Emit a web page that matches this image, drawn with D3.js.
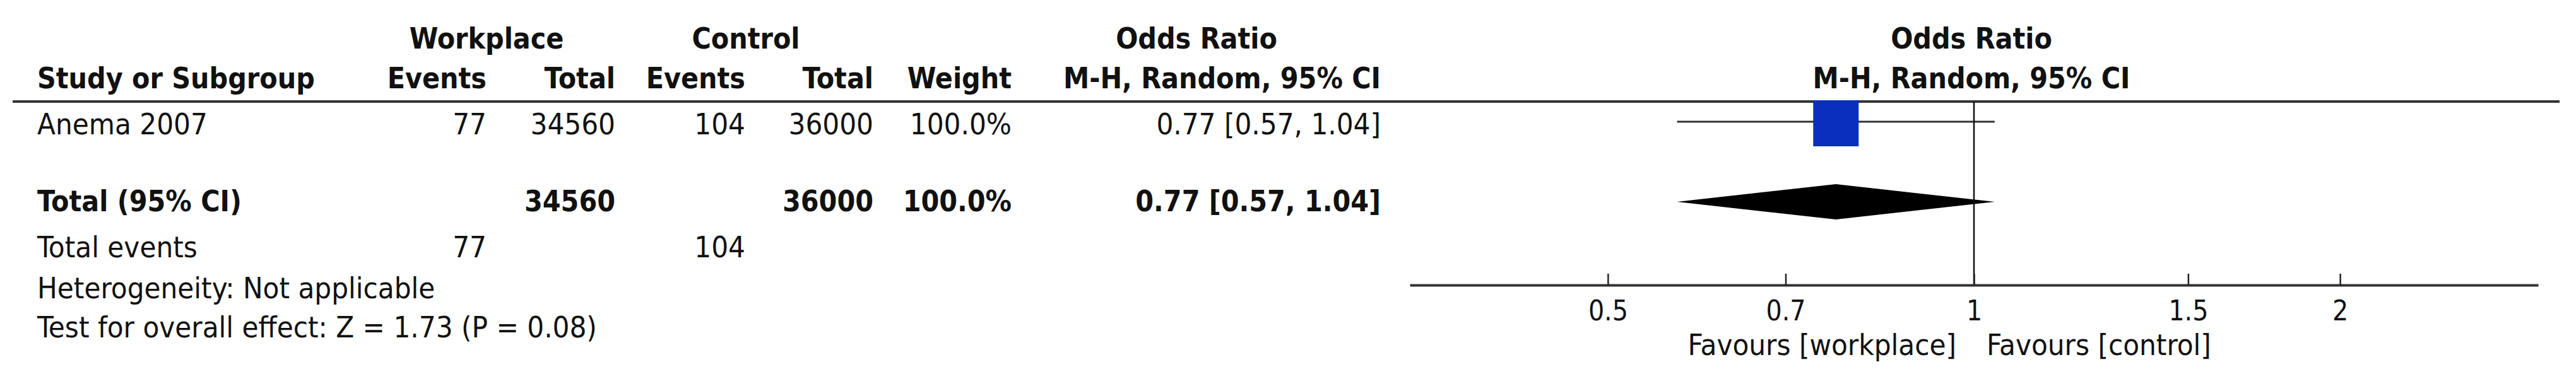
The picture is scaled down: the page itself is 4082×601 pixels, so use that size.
<!DOCTYPE html>
<html><head><meta charset="utf-8">
<script src="https://cdn.jsdelivr.net/npm/d3@7"></script>
<style>
body{margin:0;background:#fff}
text{font-family:"DejaVu Sans Condensed","DejaVu Sans",sans-serif;font-size:47px;fill:#111}
.b{font-weight:bold;font-size:46px}
</style></head><body>
<svg id="chart" width="4082" height="601"></svg>
<script>
// study rows
var studies = ["Anema 2007"]
var expEvents = [77], expTotal = [34560]
var ctlEvents = [104], ctlTotal = [36000]
var weights = ["100.0%"]
var orVal = [0.77], orLo = [0.57], orHi = [1.04]
// pooled
var totalRow = {label:"Total (95% CI)", expTotal:34560, ctlTotal:36000, weight:"100.0%", or:0.77, lo:0.57, hi:1.04}
var totalEvents = [77, 104]
var footNotes = ["Heterogeneity: Not applicable", "Test for overall effect: Z = 1.73 (P = 0.08)"]
var tickVals = [0.5, 0.7, 1, 1.5, 2]
var favours = ["Favours [workplace]", "Favours [control]"]

var svg = d3.select('#chart')

var x = d3.scaleLog().domain([1/2.91, 2.91]).range([2234, 4022])

function txt(s, xx, yy, anchor, cls){
    svg.append('text').attr('x', xx).attr('y', yy)
    .attr('text-anchor', anchor || 'start')
    .attr('class', cls || '')
    .text(s)
}

// column right edges
var cols = {ev1:771, tot1:975, ev2:1181, tot2:1384, wt:1603, ci:2188}

// headers
txt("Workplace", 771, 77, 'middle', 'b')
txt("Control", 1182, 77, 'middle', 'b')
txt("Odds Ratio", 1896, 77, 'middle', 'b')
txt("Odds Ratio", 3124, 77, 'middle', 'b')
txt("Study or Subgroup", 59, 140, 'start', 'b')
txt("Events", cols.ev1, 140, 'end', 'b')
txt("Total", cols.tot1, 140, 'end', 'b')
txt("Events", cols.ev2, 140, 'end', 'b')
txt("Total", cols.tot2, 140, 'end', 'b')
txt("Weight", cols.wt, 140, 'end', 'b')
txt("M-H, Random, 95% CI", cols.ci, 140, 'end', 'b')
txt("M-H, Random, 95% CI", 3124, 140, 'middle', 'b')

svg.append('line').attr('x1', 20).attr('x2', 4056).attr('y1', 161).attr('y2', 161)
    .attr('stroke', '#333').attr('stroke-width', 4)

var fmt = d3.format('.2f')
studies.forEach(function(s, i){
    var yy = 213
    txt(s, 59, yy)
    txt(expEvents[i], cols.ev1, yy, 'end')
    txt(expTotal[i], cols.tot1, yy, 'end')
    txt(ctlEvents[i], cols.ev2, yy, 'end')
    txt(ctlTotal[i], cols.tot2, yy, 'end')
    txt(weights[i], cols.wt, yy, 'end')
    txt(fmt(orVal[i]) + " [" + fmt(orLo[i]) + ", " + fmt(orHi[i]) + "]", cols.ci, yy, 'end')
    var cy = 193
    svg.append('line').attr('x1', x(orLo[i])).attr('x2', x(orHi[i]))
        .attr('y1', cy).attr('y2', cy).attr('stroke', '#333').attr('stroke-width', 3)
    svg.append('rect').attr('x', x(orVal[i]) - 36).attr('y', 159)
        .attr('width', 72).attr('height', 73).attr('fill', '#0a2fbf')
})

// total row
txt(totalRow.label, 59, 335, 'start', 'b')
txt(totalRow.expTotal, cols.tot1, 335, 'end', 'b')
txt(totalRow.ctlTotal, cols.tot2, 335, 'end', 'b')
txt(totalRow.weight, cols.wt, 335, 'end', 'b')
txt(fmt(totalRow.or) + " [" + fmt(totalRow.lo) + ", " + fmt(totalRow.hi) + "]", cols.ci, 335, 'end', 'b')
var dy = 320
svg.append('path')
    .attr('d', d3.line()([[x(totalRow.lo), dy], [x(totalRow.or), dy - 28], [x(totalRow.hi), dy], [x(totalRow.or), dy + 28]]) + 'Z')
    .attr('fill', '#000')

txt("Total events", 59, 408)
txt(totalEvents[0], cols.ev1, 408, 'end')
txt(totalEvents[1], cols.ev2, 408, 'end')
txt(footNotes[0], 59, 473)
txt(footNotes[1], 59, 535)

// null line
svg.append('line').attr('x1', x(1)).attr('x2', x(1)).attr('y1', 161).attr('y2', 452)
    .attr('stroke', '#111').attr('stroke-width', 2.5)

// axis
var axis = svg.append('g').attr('transform', 'translate(0,452)')
    .call(d3.axisTop(x).tickValues(tickVals).tickSize(18).tickSizeOuter(0).tickFormat(d3.format('')))
axis.select('.domain').attr('stroke', '#333').attr('stroke-width', 4)
axis.selectAll('.tick line').attr('stroke', '#222').attr('stroke-width', 2.5)
axis.selectAll('.tick text').attr('y', 56).attr('dy', 0)
    .style('font-family', '"DejaVu Sans Condensed","DejaVu Sans",sans-serif').style('font-size', '44px').attr('fill', '#111')

txt(favours[0], x(1) - 28, 563, 'end')
txt(favours[1], x(1) + 20, 563, 'start')
</script>
</body></html>
